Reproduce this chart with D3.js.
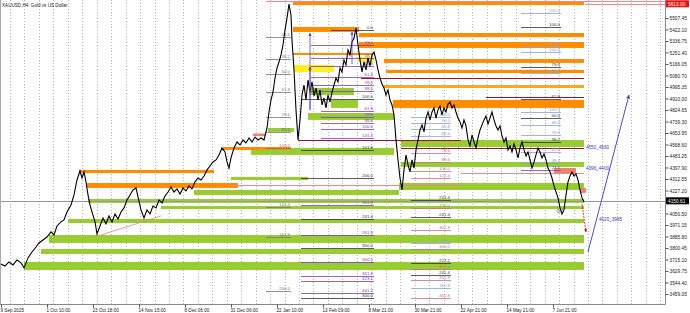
<!DOCTYPE html>
<html><head><meta charset="utf-8">
<script src="https://cdn.jsdelivr.net/npm/d3@7"></script>
<style>
body{margin:0;background:#fff}
svg{display:block;font-family:"Liberation Sans",Arial,sans-serif}
</style>
</head><body>
<svg id="chart" width="690" height="313"></svg>
<script>
// XAUUSD H4 - bar index / price
var priceBars = [[0,3682],[2,3667],[4,3697],[6,3675],[8,3712],[10,3690],[11.5,3653],[13.5,3727],[15.5,3771],[17.5,3808],[19,3838],[21,3860],[23,3882],[25,3920],[26.5,3897],[28,3964],[30,3994],[31.5,4009],[33,4068],[35,4120],[36.5,4194],[38,4305],[39.5,4372],[40.5,4320],[41.5,4365],[42.5,4291],[43.5,4194],[44.5,4120],[45.5,4068],[47,3994],[48,3905],[49.5,3964],[51,4023],[52.5,3979],[54,4038],[55.5,3994],[57,4053],[58.5,4016],[60,4068],[61.5,4098],[63,4157],[64.5,4194],[66,4231],[67.5,4246],[68.5,4179],[70,4083],[71.5,4023],[73,4083],[74.5,4053],[76,4112],[77.5,4098],[79,4157],[80.5,4135],[82,4187],[83.5,4216],[85,4253],[86.5,4216],[88,4239],[89.5,4201],[91,4246],[92.5,4224],[94,4261],[95.5,4239],[97,4291],[98.5,4320],[100,4305],[101.5,4335],[103,4380],[104.5,4409],[106,4439],[107.5,4454],[109,4491],[110.5,4543],[112,4513],[113,4439],[114,4394],[115,4469],[116.5,4543],[118,4587],[119.5,4565],[121,4602],[122.5,4580],[124,4617],[125.5,4587],[127,4624],[128.5,4602],[130,4617],[131.5,4602],[133,4691],[134,4810],[135,4899],[136,4958],[137,5062],[138,5136],[139,5181],[140,5233],[141,5307],[142,5418],[143,5507],[144,5611],[145,5530],[145.5,5344],[146.5,5122],[147.5,4825],[148.5,4602],[149.5,4751],[150.5,4936],[151.5,5010],[152.5,4899],[153.5,5047],[154.5,4958],[155.5,5033],[156.5,4929],[157.5,4988],[158.5,4899],[159.5,4973],[160.5,4862],[161.5,4914],[162.5,4840],[163.5,4936],[164.5,4884],[165.5,4958],[166.5,5010],[167.5,5062],[168.5,5033],[169.5,5136],[170.5,5107],[171.5,5196],[172.5,5159],[173.5,5270],[174.5,5233],[175.5,5329],[176.5,5359],[177.5,5433],[178.5,5307],[179.5,5196],[180.5,5107],[181.5,5181],[182.5,5122],[183.5,5211],[184.5,5151],[185.5,5233],[186.5,5255],[187.5,5196],[188.5,5122],[189.5,5062],[190.5,5018],[191.5,4988],[192.5,4936],[193.5,4973],[194.5,4899],[195.5,4862],[196.5,4788],[197.5,4602],[198.5,4454],[199.5,4320],[200.5,4231],[201.5,4380],[202.5,4491],[203.5,4417],[204.5,4365],[205.5,4454],[206.5,4394],[207.5,4528],[208.5,4602],[209.5,4676],[210.5,4714],[211.5,4662],[212.5,4765],[213.5,4810],[214.5,4751],[215.5,4810],[216.5,4840],[217.5,4765],[218.5,4825],[219.5,4854],[220.5,4788],[221.5,4840],[222.5,4810],[223.5,4869],[224.5,4884],[225.5,4840],[226.5,4862],[227.5,4810],[228.5,4765],[229.5,4736],[230.5,4691],[231.5,4751],[232.5,4706],[233.5,4602],[234.5,4558],[235.5,4639],[236.5,4587],[237.5,4543],[238.5,4617],[239.5,4676],[240.5,4714],[241.5,4751],[242.5,4780],[243.5,4721],[244.5,4765],[245.5,4810],[246.5,4751],[247.5,4706],[248.5,4676],[249.5,4706],[250.5,4632],[251.5,4587],[252.5,4617],[253.5,4528],[254.5,4558],[255.5,4513],[256.5,4572],[257.5,4528],[258.5,4469],[259.5,4543],[260.5,4587],[261.5,4528],[262.5,4483],[263.5,4513],[264.5,4454],[265.5,4394],[266.5,4439],[267.5,4491],[268.5,4543],[269.5,4513],[270.5,4469],[271.5,4498],[272.5,4454],[273.5,4394],[274.5,4365],[275.5,4320],[276.5,4261],[277.5,4216],[278.5,4172],[279.5,4098],[280.5,4053],[281.5,4083],[282.5,4194],[283.5,4291],[284.5,4335],[285.5,4365],[286.5,4335],[287.5,4350],[288.5,4305],[289.5,4231],[290.5,4172],[291.5,4142]];

var timeLabels = ["9 Sep 2025","1 Oct 10:00","23 Oct 18:00","14 Nov 15:00","8 Dec 06:00","31 Dec 06:00","22 Jan 10:00","13 Feb 09:00","8 Mar 21:00","30 Mar 21:00","22 Apr 21:00","14 May 21:00","7 Jun 21:00"];
var timeLabelBars = [0,23,46,69,92,115,138,161,184,207,230,253,276];

var priceTicks = [5507.45,5422.10,5336.75,5251.40,5166.05,5080.70,4995.35,4910.00,4824.65,4739.30,4653.95,4568.60,4483.25,4397.90,4312.55,4227.20,4056.50,3971.15,3885.80,3800.45,3715.10,3629.75,3544.40,3459.05];

var bidPrice = 4150.6, bidText = "4150.61";
var highPrice = 5613.0, highText = "5613.00";

// zones: [fromBar, toBar, hi, lo]
var orangeZones = [[146,291.5,5626,5604],[146,179,5441,5404],[179,291.5,5396,5366],[179,291.5,5329,5285],[146,186,5248,5233],[191.5,291.5,5203,5174],[192.5,291.5,5122,5099],[196,291.5,4899,4840],[111,145,4550,4528],[39,106.5,4380,4357],[43,118.5,4283,4246]];
var lightOrangeZones = [[191.5,291.5,5010,4988]];
var yellowZones = [[146.5,166.5,5159,5107],[178.5,186.5,5218,5181]];
var salmonZones = [[276.5,287.5,4394,4357],[290,292.5,4246,4209],[126,132.5,4650,4632]];
var greenZones = [[33.5,291.5,4016,3986],[24,291.5,3897,3838],[20,291.5,3793,3756],[11.5,291.5,3697,3637],[80,291.5,4112,4090],[43.5,291.5,4164,4135],[96.5,199,4231,4194],[199,291.5,4283,4231],[115,153.5,4328,4305],[200,291.5,4439,4402],[200,291.5,4602,4550],[125,196.5,4543,4491],[133.5,146.5,4691,4662],[153.5,196.5,4802,4751],[165,178.5,4899,4840],[154,176.5,4988,4936]];

// lines: [fromBar, toBar, price]
var maroonLines = [[180,291.5,5062],[242.5,291.5,4921],[148.5,230,4602],[200,291.5,4543]];
var pinkLines = [[115,230,4268],[230,291.5,4357],[132.5,332,5634],[292,332,5613]];

// fib levels: [fromBar, toBar, price, label, kind]
var fibLevels = [
  [132.5,145,5366,"23.6","g"],[132.5,145,5203,"38.2","g"],[132.5,145,5092,"50.0","g"],[132.5,145,4958,"61.8","g"],
  [132.5,145,4773,"78.6","g"],[132.5,145,4662,"88.6","g"],[132.5,145,4543,"100.0","g"],[132.5,145,4105,"141.4","g"],
  [132.5,145,3882,"161.8","g"],[132.5,145,3482,"200.0","g"],
  [165,186.5,5418,"0.0","d"],[155,186.5,5307,"23.6","p"],[155,186.5,5211,"38.2","p"],[155,186.5,5151,"50.0","p"],
  [155,186.5,5070,"61.8","p"],[155,186.5,5010,"78.6","p"],[155,186.5,4966,"88.6","p"],[150,186.5,4907,"100.0","d"],
  [160,186.5,4815,"61.8","p"],[160,186.5,4770,"78.6","p"],[160,186.5,4725,"88.6","p"],[160,186.5,4680,"100.0","p"],
  [160,186.5,4617,"141.4","p"],[150,186.5,4528,"161.8","d"],[150,186.5,4320,"200.0","d"],[150,186.5,4120,"261.8","p"],
  [150,186.5,4016,"241.4","d"],[150,186.5,3897,"261.8","p"],[150,186.5,3801,"300.0","d"],[150,186.5,3697,"300.0","p"],
  [150,186.5,3593,"361.8","p"],[150,186.5,3556,"423.6","p"],[150,186.5,3467,"441.4","p"],[150,186.5,3430,"300.0","d"],
  [205,225,4770,"100.0","s"],[205,225,4725,"50.0","s"],[205,225,4680,"61.8","s"],[205,225,4635,"88.6","s"],
  [205,225,4506,"78.6","r"],[205,225,4439,"88.6","r"],[205,225,4372,"100.0","r"],[205,225,4320,"121.4","r"],
  [205,225,4157,"241.4","d"],[205,225,4098,"200.0","r"],[205,225,4031,"241.4","d"],[205,225,3934,"361.8","r"],
  [205,225,3838,"300.0","s"],[205,225,3795,"300.0","r"],[205,225,3690,"227.2","d"],[205,225,3645,"341.4","r"],
  [205,225,3601,"241.4","d"],[205,225,3560,"361.8","r"],[205,225,3504,"361.8","s"],[205,225,3430,"461.8","r"],
  [260,280,5545,"200.0","s"],[260,280,5440,"100.0","d"],[260,280,5298,"88.6","s"],[260,280,5252,"100.0","s"],
  [260,280,5144,"79.6","d"],[260,280,5100,"61.8","s"],[260,280,4907,"61.8","d"],[260,280,4810,"100.0","s"],
  [260,280,4762,"50.0","d"],[260,280,4716,"88.6","s"],[260,280,4639,"78.6","s"],[260,280,4587,"38.2","d"],
  [260,280,4513,"61.8","s"],[260,280,4432,"38.5","s"],[260,280,4380,"23.6","p"]
];
var fibColors = {g:"#777777", d:"#333333", p:"#7b3fc0", s:"#8aa0d8", r:"#c0708a"};

var zeroMarks = [[278,4060,"0.0"]];
var rangeNotes = [[292.5,4550,"4550_4560"],[292.5,4396,"4396_4400"],[299,4016,"4020_3985"]];

// arrows: [fromBar, fromPrice, toBar, toPrice]
var upArrows = [[154.5,4824,154.5,5396],[154.5,4824,154.5,5144],[175.5,5166,175.5,5404]];
var targetArrow = [293.5,3771,314,4936];
var dropArrow = [290.5,4127,292.5,3919];
var trendLine = [50,3897,80,4038];

var W = 690, H = 313, plotR = 665, plotB = 304;
var svg = d3.select("#chart");
var x = d3.scaleLinear().domain([0,332]).range([1,plotR]);
var y = d3.scaleLinear().domain([3384.8,5641]).range([plotB,0]);

svg.append("defs").append("clipPath").attr("id","plot")
  .append("rect").attr("x",0).attr("y",0).attr("width",plotR).attr("height",plotB);
var g = svg.append("g").attr("clip-path","url(#plot)");

// grid
g.selectAll(".grid").data(d3.range(4.5,332,7.225)).enter().append("line")
  .attr("x1",function(d){return Math.round(x(d))+0.5}).attr("x2",function(d){return Math.round(x(d))+0.5})
  .attr("y1",0).attr("y2",plotB)
  .attr("stroke","#b4b4b4").attr("stroke-width",1).attr("stroke-dasharray","1,2");

function drawZones(data, color){
  g.append("g").selectAll("rect").data(data).enter().append("rect")
    .attr("x",function(d){return x(d[0])})
    .attr("width",function(d){return x(d[1])-x(d[0])})
    .attr("y",function(d){return y(d[2])})
    .attr("height",function(d){return Math.max(1,y(d[3])-y(d[2]))})
    .attr("fill",color);
}
drawZones(greenZones,"#99cc33");
drawZones(orangeZones,"#ff8c00");
drawZones(lightOrangeZones,"#f5a623");
drawZones(yellowZones,"#ffee22");
drawZones(salmonZones,"#f08070");

function drawLines(data, color, w){
  g.append("g").selectAll("line").data(data).enter().append("line")
    .attr("x1",function(d){return x(d[0])}).attr("x2",function(d){return x(d[1])})
    .attr("y1",function(d){return Math.round(y(d[2]))+0.5}).attr("y2",function(d){return Math.round(y(d[2]))+0.5})
    .attr("stroke",color).attr("stroke-width",w);
}
drawLines(maroonLines,"#a0102a",1.2);
drawLines(pinkLines,"#f08a8a",1);

// bid line
g.append("line").attr("x1",0).attr("x2",plotR)
  .attr("y1",Math.round(y(bidPrice))+0.5).attr("y2",Math.round(y(bidPrice))+0.5)
  .attr("stroke","#9a9a9a").attr("stroke-width",1);

// fib levels
var fib = g.append("g");
fib.selectAll("line").data(fibLevels).enter().append("line")
  .attr("x1",function(d){return x(d[0])}).attr("x2",function(d){return x(d[1])})
  .attr("y1",function(d){return Math.round(y(d[2]))+0.5}).attr("y2",function(d){return Math.round(y(d[2]))+0.5})
  .attr("stroke",function(d){return fibColors[d[4]]}).attr("stroke-width",0.8);
fib.selectAll("text").data(fibLevels).enter().append("text")
  .attr("x",function(d){return x(d[1])-1}).attr("y",function(d){return y(d[2])-1})
  .attr("text-anchor","end").attr("font-size",4.4)
  .attr("fill",function(d){return fibColors[d[4]]})
  .text(function(d){return d[3]});

// trend line
g.append("line").attr("x1",x(trendLine[0])).attr("y1",y(trendLine[1]))
  .attr("x2",x(trendLine[2])).attr("y2",y(trendLine[3]))
  .attr("stroke","#e08080").attr("stroke-width",0.8);

// price
var line = d3.line().x(function(d){return x(d[0])}).y(function(d){return y(d[1])});
g.append("path").datum(priceBars).attr("d",line)
  .attr("fill","none").attr("stroke","#000").attr("stroke-width",1.1);

// arrows
var defs = svg.select("defs");
defs.append("marker").attr("id","arrP").attr("viewBox","0 0 10 10").attr("refX",9).attr("refY",5)
  .attr("markerWidth",4).attr("markerHeight",4).attr("orient","auto")
  .append("path").attr("d","M0,0L10,5L0,10z").attr("fill","#5a3fc8");
defs.append("marker").attr("id","arrR").attr("viewBox","0 0 10 10").attr("refX",9).attr("refY",5)
  .attr("markerWidth",4).attr("markerHeight",4).attr("orient","auto")
  .append("path").attr("d","M0,0L10,5L0,10z").attr("fill","#e00000");

g.selectAll(".uparr").data(upArrows).enter().append("line")
  .attr("x1",function(d){return x(d[0])}).attr("y1",function(d){return y(d[1])})
  .attr("x2",function(d){return x(d[2])}).attr("y2",function(d){return y(d[3])})
  .attr("stroke","#5a3fc8").attr("stroke-width",0.8).attr("marker-end","url(#arrP)");

g.append("line").attr("x1",x(targetArrow[0])).attr("y1",y(targetArrow[1]))
  .attr("x2",x(targetArrow[2])).attr("y2",y(targetArrow[3]))
  .attr("stroke","#4a4ad0").attr("stroke-width",1).attr("marker-end","url(#arrP)");
g.append("line").attr("x1",x(dropArrow[0])).attr("y1",y(dropArrow[1]))
  .attr("x2",x(dropArrow[2])).attr("y2",y(dropArrow[3]))
  .attr("stroke","#e00000").attr("stroke-width",0.8).attr("stroke-dasharray","2,1").attr("marker-end","url(#arrR)");

g.selectAll(".note").data(rangeNotes).enter().append("text")
  .attr("x",function(d){return x(d[0])}).attr("y",function(d){return y(d[1])+2})
  .attr("font-size",4.6).attr("fill","#3a3ab0").text(function(d){return d[2]});
g.selectAll(".zero").data(zeroMarks).enter().append("text")
  .attr("x",function(d){return x(d[0])}).attr("y",function(d){return y(d[1])})
  .attr("font-size",4.6).attr("fill","#333").text(function(d){return d[2]});

// frame + axes
svg.append("line").attr("x1",plotR+0.5).attr("x2",plotR+0.5).attr("y1",0).attr("y2",plotB+0.5).attr("stroke","#888");
svg.append("line").attr("x1",0).attr("x2",plotR+0.5).attr("y1",plotB+0.5).attr("y2",plotB+0.5).attr("stroke","#888");
svg.append("line").attr("x1",0.5).attr("x2",0.5).attr("y1",0).attr("y2",plotB).attr("stroke","#aaa");

var yAxis = d3.axisRight(y).tickValues(priceTicks).tickSize(3).tickPadding(1)
  .tickFormat(function(d){return d.toFixed(2)});
var ya = svg.append("g").attr("transform","translate("+(plotR+0.5)+",0)").call(yAxis);
ya.select(".domain").remove();
ya.selectAll("line").attr("stroke","#555");
ya.selectAll("text").attr("font-size",4.8).attr("fill","#222").attr("font-family","Liberation Sans, Arial");

var xAxis = d3.axisBottom(x).tickValues(timeLabelBars).tickSize(3).tickPadding(1)
  .tickFormat(function(d,i){return timeLabels[i]});
var xa = svg.append("g").attr("transform","translate(0,"+(plotB+0.5)+")").call(xAxis);
xa.select(".domain").remove();
xa.selectAll("line").attr("stroke","#555");
xa.selectAll("text").attr("font-size",4.6).attr("fill","#222").attr("text-anchor","start")
  .attr("font-family","Liberation Sans, Arial").attr("dx",-1);

// price boxes
function priceBox(p, txt, bg){
  var yy = y(p);
  svg.append("rect").attr("x",plotR+1).attr("y",yy-3.5).attr("width",W-plotR-2).attr("height",7).attr("fill",bg);
  svg.append("text").attr("x",plotR+3).attr("y",yy+1.8).attr("font-size",4.8).attr("fill","#fff").text(txt);
}
priceBox(bidPrice,bidText,"#000");
priceBox(highPrice,highText,"#ee1111");

svg.append("text").attr("x",2).attr("y",7).attr("font-size",4.6).attr("fill","#222")
  .text("XAUUSD,H4:  Gold vs US Dollar");
</script>
</body></html>
